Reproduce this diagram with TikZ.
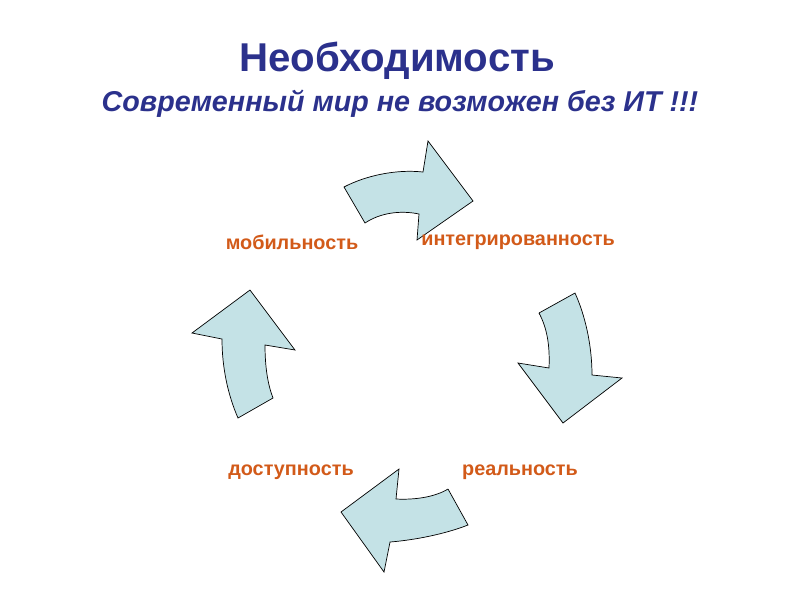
\documentclass[tikz,border=0pt]{standalone}
\usepackage{fontspec}
\setmainfont{Liberation Sans}
\usepackage{tikz}

\definecolor{titleblue}{RGB}{43,49,140}
\definecolor{wordorange}{RGB}{210,90,25}
\definecolor{arrowfill}{RGB}{196,226,230}

\begin{document}
\begin{tikzpicture}[x=0.025cm,y=-0.025cm,
  word/.style={text=wordorange,font=\fontsize{14.1}{16}\selectfont\bfseries},
  bent/.style={fill=arrowfill,draw=black,line width=0.5pt}]
\useasboundingbox (0,0) rectangle (800,600);
\node[text=titleblue,font=\fontsize{28.6}{33}\selectfont\bfseries] (title) at (397,61) {Необходимость};
\node[text=titleblue,font=\fontsize{20.4}{24}\selectfont\bfseries\itshape] (subtitle) at (400,104) {Современный мир не возможен без ИТ !!!};
\filldraw[bent] (344,187) .. controls (365,176) and (395,169) .. (423,172)--(428,141)--(473,201)--(417,240)--(419,214) .. controls (400,210) and (380,213) .. (365,223)--cycle;
\filldraw[bent] (539,313)--(575,293) .. controls (585,315) and (592,345) .. (592,375)--(622,378)--(563,423)--(518,363)--(549,368) .. controls (550,345) and (547,328) .. (539,313);
\filldraw[bent] (448,489)--(468,525) .. controls (445,534) and (415,540) .. (390,542)--(384,572)--(341,512)--(399,469)--(396,499) .. controls (415,500) and (435,497) .. (448,489);
\filldraw[bent] (250,290)--(295,350)--(265,345) .. controls (265,368) and (268,385) .. (273,398)--(238,418) .. controls (228,395) and (222,368) .. (222,339)--(192,333)--cycle;
\node[word] (mob) at (292,242) {мобильность};
\node[word] (integ) at (518,242) {интегрированность};
\node[word] (dost) at (291,472) {доступность};
\node[word] (real) at (520,472) {реальность};
\end{tikzpicture}
\end{document}
